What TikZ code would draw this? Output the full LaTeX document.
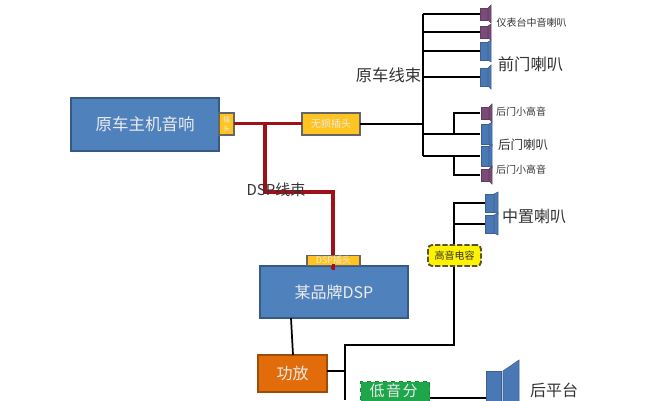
\documentclass[tikz,border=0pt]{standalone}
\usepackage{fontspec}
\setmainfont{Noto Sans CJK SC}
\newcommand\fs[1]{\fontsize{\the\dimexpr #1pt*3/4\relax}{\the\dimexpr #1pt\relax}\selectfont}
\newcommand\spk[8]{% x, yc, body half height, body width, cone width, cone half height, colour, gap
  \fill[#7,draw=#7!80!black,line width=.4pt] (#1,#2-#3) rectangle ++(#4,2*#3);
  \fill[#7,draw=#7!80!black,line width=.4pt] (#1+#4+#8,#2-#3) -- (#1+#4+#8+#5,#2-#6) -- (#1+#4+#8+#5,#2+#6) -- (#1+#4+#8,#2+#3) -- cycle;
}
\definecolor{spkblue}{HTML}{4A78B4}
\definecolor{spkred}{HTML}{7A4A78}
\definecolor{boxblue}{HTML}{4F81BD}
\definecolor{plug}{HTML}{FFC420}
\definecolor{wirered}{HTML}{A01018}
\definecolor{amp}{HTML}{E36C0A}
\definecolor{filt}{HTML}{1EA64A}
\tikzset{
  x=.75pt,y=-.75pt,
  wire/.style={draw=black,line width=1.3pt},
  redwire/.style={draw=wirered,line width=2.9pt},
  blk/.style={draw=#1!70!black,fill=#1,line width=.8pt,inner sep=0pt,outer sep=0pt,text=white!92!black,anchor=north west},
  lbl/.style={inner sep=0pt,text=black!80},
}
\begin{document}
\begin{tikzpicture}
\useasboundingbox (0,0) rectangle (667,400);
\begin{scope}
\clip (0,0) rectangle (667,400);
% harness wiring
\coordinate (t0) at (423,14);\coordinate (t1) at (423,156);
\coordinate (s1) at (480,14);\coordinate (s2) at (480,32);\coordinate (s3) at (480,51);\coordinate (s4) at (480,77);
\coordinate (t2) at (423,32);\coordinate (t3) at (423,51);\coordinate (t4) at (423,77);
\coordinate (tm) at (423,124);
\coordinate (r1) at (423,134);\coordinate (r2) at (480,134);
\coordinate (r3) at (480,156);
\coordinate (ra) at (454,113);\coordinate (rb) at (480,113);\coordinate (ra0) at (454,134);
\coordinate (rc) at (454,175);\coordinate (rd) at (480,175);\coordinate (rc0) at (454,156);
\draw[wire] (t0)--(t1);
\draw[wire] (t0)--(s1) (t2)--(s2) (t3)--(s3) (t4)--(s4);
\draw[wire] (r1)--(r2) (t1)--(r3);
\draw[wire] (ra0)--(ra)--(rb) (rc0)--(rc)--(rd);
% speakers
\spk{480}{14}{6}{8}{3}{9}{spkred}{0}
\spk{480}{32}{6}{8}{3}{8}{spkred}{0}
\spk{480}{51}{9}{8}{3}{11}{spkblue}{0}
\spk{480}{77}{9}{8}{3}{12}{spkblue}{0}
\spk{481}{113}{6}{8}{3}{9}{spkred}{0}
\spk{481}{134}{10}{8}{3}{12}{spkblue}{0}
\spk{481}{156}{10}{8}{3}{12}{spkblue}{0}
\spk{481}{175}{6}{8}{3}{9}{spkred}{0}
\spk{485}{203}{9}{9}{4}{11}{spkblue}{0}
\spk{485}{224}{9}{9}{4}{11}{spkblue}{0}
\spk{486}{396}{25}{15}{16}{36}{spkblue}{2}
% boxes
\node[blk=boxblue,minimum width=111pt,minimum height=39.75pt,font=\fs{16.5}] (host) at (71,98) {原车主机音响};
\node[blk=plug,draw=black!60,minimum width=11.25pt,minimum height=16.5pt,font=\fs{7},align=center] (hplug) at (219,113) {插\\头};
\node[blk=plug,draw=black!60,minimum width=43.5pt,minimum height=16.5pt,font=\fs{10}] (lossless) at (302,113) {无损插头};
\node[blk=boxblue,minimum width=111pt,minimum height=39pt,font=\fs{16}] (dsp) at (260,266) {某品牌DSP};
\coordinate (dspin) at (333,269);
\coordinate (bendb) at (265,192);\coordinate (bendc) at (333,192);\coordinate (tee) at (265,123.5);
\draw[redwire] (hplug.east|-tee)--(lossless.west|-tee);
\draw[redwire] (tee)--(bendb)--(bendc)--(dspin);
\node[blk=plug,draw=black!60,minimum width=39.75pt,minimum height=7.5pt,font=\fs{9}] (dplug) at (307,255.5) {DSP插头};
\fill[wirered] (331.5,264) rectangle (335,270);
\draw[wire] (lossless.east)--(tm);
\node[blk=amp,minimum width=51.75pt,minimum height=27.75pt,font=\fs{16}] (ampl) at (258,355) {功放};
\draw[wire] (291,318)--(293,355);
% speaker-side amp wiring
\coordinate (a1) at (345,371);\coordinate (a2) at (345,345);\coordinate (a3) at (454,345);\coordinate (a4) at (454,203);\coordinate (a5) at (485,203);
\coordinate (a6) at (454,224);\coordinate (a7) at (485,224);\coordinate (a8) at (345,400);
\draw[wire] (ampl.east|-a1)--(a1) (a8)--(a2)--(a3)--(a4)--(a5) (a6)--(a7);
\node[draw=black!50!olive,dash pattern=on 4pt off 1.5pt,line width=1.4pt,fill=yellow,rounded corners=3pt,minimum width=39.75pt,minimum height=15.75pt,inner sep=0pt,font=\fs{10},text=black!80] (hicap) at (454.5,255.5) {高音电容};
\node[draw=filt!80!black,dashed,line width=1pt,fill=filt,inner sep=0pt,minimum width=51.75pt,minimum height=30pt,anchor=north west] (lowf) at (360,381) {};
\node[inner sep=0pt,text=white!92!black,font=\fs{15}\addfontfeature{LetterSpace=10}] (lowt) at (393.5,391) {低音分};
\coordinate (l1) at (486,398);
\draw[wire] (lowf.east|-l1)--(l1);
% labels
\node[lbl,font=\fs{15}] (dspw) at (276,190) {DSP线束};
\node[lbl,font=\fs{16.3}] (harn) at (388.5,75) {原车线束};
\node[lbl,font=\fs{10}] (t1l) at (531.5,23) {仪表台中音喇叭};
\node[lbl,font=\fs{16.3}] (t2l) at (530.5,64) {前门喇叭};
\node[lbl,font=\fs{10}] (t3l) at (521,112) {后门小高音};
\node[lbl,font=\fs{12.5}] (t4l) at (523,145) {后门喇叭};
\node[lbl,font=\fs{10}] (t5l) at (521,170) {后门小高音};
\node[lbl,font=\fs{16}] (t6l) at (534,216) {中置喇叭};
\node[lbl,font=\fs{16}] (t7l) at (554,390) {后平台};
\end{scope}
\end{tikzpicture}
\end{document}
